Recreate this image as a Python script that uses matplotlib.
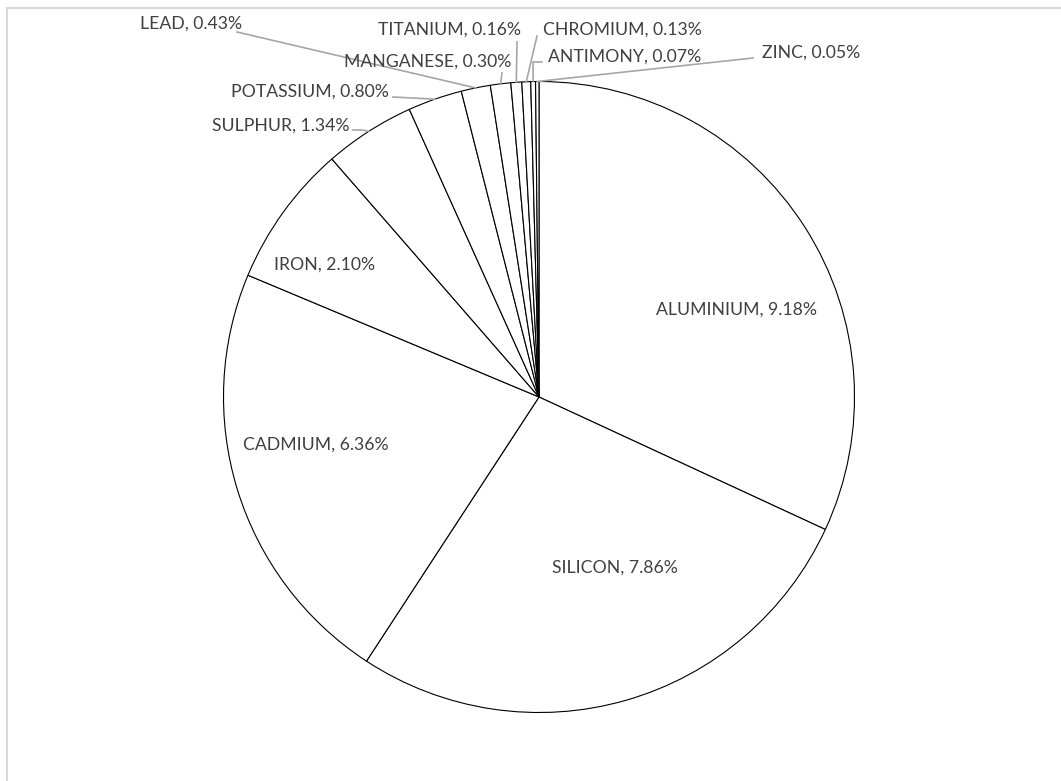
import matplotlib
matplotlib.use('Agg')
import matplotlib.pyplot as plt
from matplotlib.lines import Line2D
import numpy as np

# ---- data ----
labels = ["ALUMINIUM", "SILICON", "CADMIUM", "IRON", "SULPHUR", "POTASSIUM",
          "LEAD", "MANGANESE", "TITANIUM", "CHROMIUM", "ANTIMONY", "ZINC"]
values = [9.18, 7.86, 6.36, 2.10, 1.34, 0.80, 0.43, 0.30, 0.16, 0.13, 0.07, 0.05]

# ---- layout (pixels) ----
W, H = 1061, 781
CX, CY, R = 539, 397, 315.5

# label centres (pixel coords)
label_pos = [(737, 310), (615, 568), (316, 445), (325, 265), (281, 126), (310, 92),
             (191, 24), (428, 62), (450, 30), (622, 30), (625, 57), (811, 53)]
# leader-line start points near the labels (None = inside label), optional elbow
leader_start = [None, None, None, None,
                [(353, 130), (362, 130)],
                [(393, 97)],
                [(237, 32)],
                [(502, 73)],
                [(517, 42)],
                [(537, 36)],
                [(542, 62), (533, 62)],
                [(753, 58)]]

TEXT_COLOR = '#404040'
LEADER_COLOR = '#a6a6a6'
FONT = 'Lato'

fig = plt.figure(figsize=(W / 100, H / 100), dpi=100)
fig.patch.set_facecolor('white')
ax = fig.add_axes([(CX - R) / W, (H - CY - R) / H, 2 * R / W, 2 * R / H])

wedges, _ = ax.pie(values, startangle=90, counterclock=False, radius=1,
                   wedgeprops=dict(facecolor='white', edgecolor='black', linewidth=0.8))
ax.set_xlim(-1, 1)
ax.set_ylim(-1, 1)
ax.set_aspect('equal')
ax.axis('off')


def px2d(p):
    return ((p[0] - CX) / R, (CY - p[1]) / R)


for i, (lab, v, w) in enumerate(zip(labels, values, wedges)):
    x, y = px2d(label_pos[i])
    ax.text(x, y, f"{lab}, {v:.2f}%", ha='center', va='center',
            fontsize=12.7, color=TEXT_COLOR, family=FONT, clip_on=False)
    if leader_start[i] is not None:
        mid = np.deg2rad((w.theta1 + w.theta2) / 2)
        pts = [px2d(p) for p in leader_start[i]] + [(np.cos(mid), np.sin(mid))]
        xs, ys = zip(*pts)
        ax.add_line(Line2D(xs, ys, color=LEADER_COLOR, linewidth=1.2, clip_on=False))

# chart-area border (top and left edges visible)
fig.add_artist(Line2D([7 / W, 1.0], [1 - 7.5 / H, 1 - 7.5 / H], transform=fig.transFigure,
                      color='#d9d9d9', linewidth=1.5))
fig.add_artist(Line2D([7 / W, 7 / W], [0, 1 - 7.5 / H], transform=fig.transFigure,
                      color='#d9d9d9', linewidth=1.5))

fig.savefig('out.png', dpi=100, facecolor='white')
